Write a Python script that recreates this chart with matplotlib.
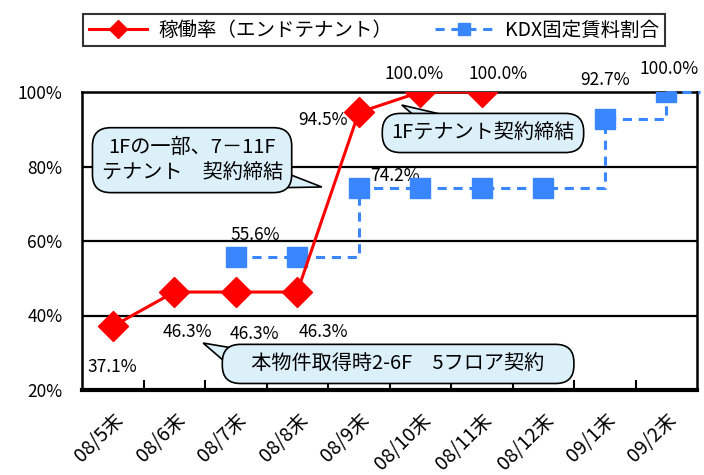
import numpy as np
import matplotlib
matplotlib.use("Agg")
import matplotlib.pyplot as plt
from matplotlib.lines import Line2D
from matplotlib.patches import Polygon
from matplotlib.ticker import FixedLocator, FuncFormatter

plt.rcParams['font.family'] = ['Noto Sans CJK JP', 'DejaVu Sans']

months = ["08/5末", "08/6末", "08/7末", "08/8末", "08/9末",
          "08/10末", "08/11末", "08/12末", "09/1末", "09/2末"]
occupancy = [37.1, 46.3, 46.3, 46.3, 94.5, 100.0, 100.0]
fixed_rent = [None, None, 55.6, 55.6, 74.2, 74.2, 74.2, 74.2, 92.7, 100.0]
yticks = [20, 40, 60, 80, 100]

RED = "#ff0000"
BLUE = "#3a86ff"
BOX = "#dcf0fa"
DASH = (0, (3, 2.2))

fig = plt.figure(figsize=(7.04, 4.75), dpi=100)
ax = fig.add_axes([82 / 704, 85 / 475, 615 / 704, 298 / 475])

x_occ = np.arange(len(occupancy))
x_rent = np.array([i for i, v in enumerate(fixed_rent) if v is not None])
y_rent = np.array([v for v in fixed_rent if v is not None])

ax.plot(x_occ, occupancy, color=RED, lw=2.2, marker="D", ms=15, zorder=5)
ax.plot(x_rent, y_rent, color=BLUE, lw=2.2, ls=DASH, drawstyle="steps-post", zorder=4)
ax.plot(x_rent, y_rent, color=BLUE, lw=0, marker="s", ms=14, zorder=4)
# line continues to the right edge at the last value
ax.plot([x_rent[-1], len(months) - 0.45], [y_rent[-1], y_rent[-1]], color=BLUE,
        lw=2.2, ls=DASH, clip_on=False, zorder=4)

ax.set_xlim(-0.5, len(months) - 0.5)
ax.set_ylim(20, 100)

for g in [40, 60, 80]:
    ax.axhline(g, color="black", lw=1.6, zorder=1)

ax.set_yticks(yticks)
ax.yaxis.set_major_formatter(FuncFormatter(lambda v, p: f"{v:.0f}%"))
ax.tick_params(axis="y", length=0, pad=14, labelsize=12.5)

ax.set_xticks(np.arange(len(months)))
ax.set_xticklabels(months, rotation=45, ha="right", rotation_mode="anchor", fontsize=14)
ax.tick_params(axis="x", which="major", length=0, pad=14)
ax.xaxis.set_minor_locator(FixedLocator(np.arange(0.5, len(months) - 0.5, 1)))
ax.tick_params(axis="x", which="minor", direction="in", length=7, width=1.5)

for side in ["top", "left", "right"]:
    ax.spines[side].set_linewidth(1.8)
ax.spines["bottom"].set_linewidth(3)

# data labels
occ_pos = [(0.0, 26.2), (1.22, 35.5), (2.3, 35.0), (3.42, 35.5), (3.42, 92.5), (4.9, 104.8), (6.26, 104.8)]
for v, (px, py) in zip(occupancy, occ_pos):
    ax.text(px, py, f"{v:.1f}%", ha="center", va="center", fontsize=12.5, clip_on=False)

rent_labels = [55.6, 74.2, 92.7, 100.0]
rent_pos = [(2.31, 61.6), (4.59, 77.4), (8.0, 103.2), (9.05, 106.1)]
for v, (px, py) in zip(rent_labels, rent_pos):
    ax.text(px, py, f"{v:.1f}%", ha="center", va="center", fontsize=12.5, clip_on=False)


# callouts: rounded box with a wedge tail
def callout(text, center, tip, base):
    ax.text(center[0], center[1], text, ha="center", va="center", fontsize=14.5,
            linespacing=1.3, zorder=7,
            bbox=dict(boxstyle="round,pad=0.45,rounding_size=0.9", fc=BOX, ec="black", lw=1.2))
    ax.add_patch(Polygon([base[0], tip, base[1]], closed=True, fc=BOX, ec="black",
                         lw=1.2, zorder=6, clip_on=False))


callout("1Fの一部、7－11F\nテナント　契約締結", (1.29, 81.7), (3.40, 74.5),
        [(2.7, 79.0), (2.7, 74.3)])
callout("1Fテナント契約締結", (6.02, 89.0), (4.70, 96.5),
        [(4.95, 93.0), (5.6, 93.0)])
callout("\u2002\u2002本物件取得時2-6F　5フロア契約\u2002\u2002", (4.64, 27.0), (1.47, 32.6),
        [(2.05, 31.0), (1.9, 26.5)])

handles = [Line2D([], [], color=RED, lw=2.2, marker="D", ms=9),
           Line2D([], [], color=BLUE, lw=2.2, ls=DASH, marker="s", ms=8)]
leg = fig.legend(handles, ["稼働率（エンドテナント）", "KDX固定賃料割合"], loc="center",
                 bbox_to_anchor=(374 / 704, 1 - 30 / 475), ncol=2, fontsize=14,
                 frameon=True, fancybox=False, edgecolor="black", borderpad=0.3,
                 handlelength=3, columnspacing=2.2, handletextpad=0.6)
leg.get_frame().set_linewidth(1.5)

fig.savefig("out.png", dpi=100)
